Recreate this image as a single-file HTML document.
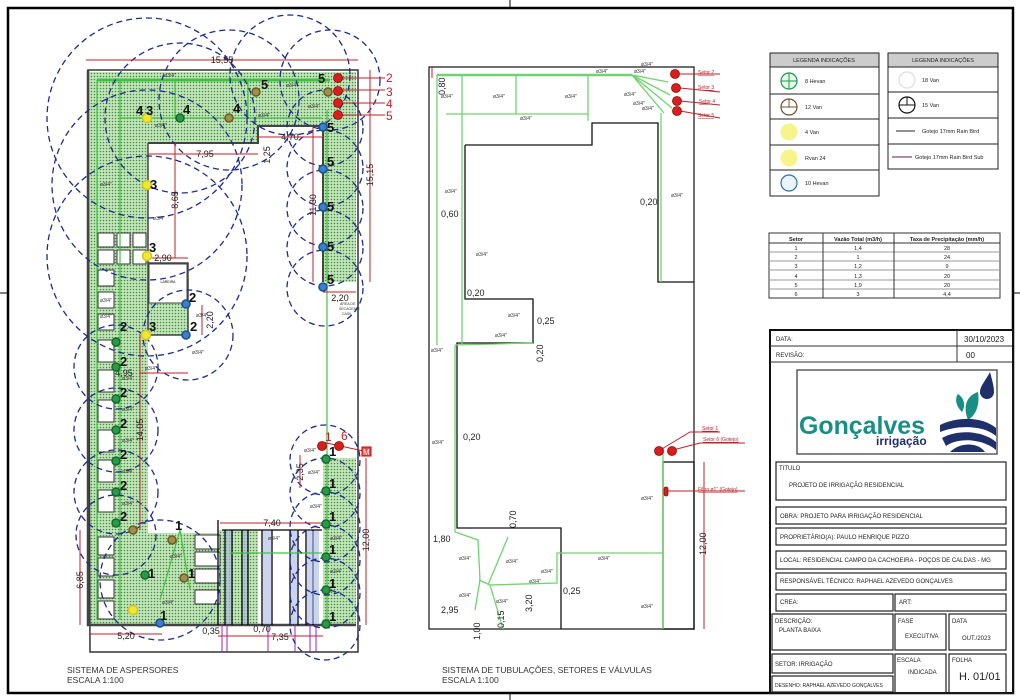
<!DOCTYPE html>
<html><head><meta charset="utf-8"><style>
html,body{margin:0;padding:0;background:#fff;}
svg{display:block;font-family:"Liberation Sans",sans-serif;}
</style></head><body>
<svg width="1020" height="700" viewBox="0 0 1020 700" xmlns="http://www.w3.org/2000/svg">
<defs>
<pattern id="h" width="3" height="3" patternUnits="userSpaceOnUse">
<rect width="3" height="3" fill="#c2e6b8"/><circle cx="1.5" cy="1.5" r="0.8" fill="#4a8a4a"/>
</pattern>
</defs>
<rect width="1020" height="700" fill="#fff"/>
<rect x="8" y="8" width="1005" height="685" fill="none" stroke="#000" stroke-width="2.5"/>
<line x1="0" y1="293" x2="8" y2="293" stroke="#000"/>
<line x1="1013" y1="293" x2="1020" y2="293" stroke="#000"/>
<line x1="510" y1="0" x2="510" y2="8" stroke="#000"/>
<line x1="510" y1="693" x2="510" y2="700" stroke="#000"/>

<g>
<path d="M88,72 H356 V282 H323 V126 H258 V143 H148 V263 H188 V335 H148 V533 H218 V625 H88 Z" fill="url(#h)"/>
<rect x="323" y="458" width="33" height="167" fill="url(#h)"/>
<rect x="218" y="530" width="105" height="95" fill="#fff"/>
<rect x="218" y="530" width="40" height="95" fill="url(#h)"/>
<path d="M88,70 H358 V652 H90 Z" fill="none" stroke="#333" stroke-width="1.5"/>
<path d="M88,70 V625 H356" fill="none" stroke="#444" stroke-width="2.5"/>
<path d="M148,143 H258 V126 H323 V282" fill="none" stroke="#444" stroke-width="2"/>
<path d="M148,143 V335 H188 V263 H148" fill="none" stroke="#444" stroke-width="1.5"/>
<rect x="149" y="264" width="38" height="39" fill="#fff" stroke="#444"/>
<text x="168" y="283" font-size="3.5" text-anchor="middle">LAREIRA</text>
<g fill="#fff" stroke="#333" stroke-width="1">
<rect x="98" y="233" width="16" height="14"/><rect x="117" y="233" width="13" height="14"/><rect x="133" y="233" width="13" height="14"/>
<rect x="98" y="250" width="16" height="14"/><rect x="117" y="250" width="13" height="14"/><rect x="133" y="250" width="13" height="14"/>
<rect x="98" y="270" width="16" height="16"/><rect x="98" y="292" width="16" height="16"/><rect x="98" y="314" width="16" height="16"/>
<rect x="98" y="340" width="16" height="22"/><rect x="98" y="370" width="16" height="22"/><rect x="98" y="400" width="16" height="22"/>
<rect x="98" y="430" width="16" height="22"/><rect x="98" y="460" width="16" height="22"/><rect x="98" y="490" width="16" height="22"/>
<rect x="98" y="537" width="16" height="18"/><rect x="98" y="558" width="16" height="18"/><rect x="98" y="580" width="16" height="18"/><rect x="98" y="601" width="16" height="18"/>
<rect x="195" y="535" width="25" height="14"/><rect x="195" y="552" width="25" height="14"/><rect x="195" y="569" width="25" height="14"/><rect x="195" y="590" width="25" height="14"/>
</g>
<g stroke="#000" stroke-width="1.3">
<line x1="222" y1="530" x2="322" y2="530"/>
<line x1="225" y1="530" x2="225" y2="625"/><line x1="232" y1="530" x2="232" y2="625"/>
<line x1="242" y1="530" x2="242" y2="625"/><line x1="248" y1="530" x2="248" y2="625"/>
<line x1="262" y1="530" x2="262" y2="625"/><line x1="272" y1="530" x2="272" y2="625"/>
<line x1="290" y1="530" x2="290" y2="625"/><line x1="298" y1="530" x2="298" y2="625"/>
<line x1="306" y1="530" x2="306" y2="625"/><line x1="313" y1="530" x2="313" y2="625"/>
<line x1="218" y1="520" x2="218" y2="625"/>
</g>
<g fill="#a8b8e8" opacity="0.6">
<rect x="226" y="531" width="5" height="93"/><rect x="243" y="531" width="4" height="93"/><rect x="263" y="531" width="8" height="93"/><rect x="291" y="531" width="6" height="93"/><rect x="307" y="531" width="12" height="93"/>
</g>
<g stroke="#a020c0" stroke-width="1">
<line x1="222" y1="625" x2="222" y2="652"/><line x1="227" y1="625" x2="227" y2="652"/><line x1="268" y1="625" x2="268" y2="652"/><line x1="295" y1="625" x2="295" y2="652"/><line x1="310" y1="625" x2="310" y2="652"/><line x1="316" y1="625" x2="316" y2="652"/>
</g>
<g stroke="#3fc23f" fill="none" stroke-width="1.2">
<line x1="97" y1="80" x2="330" y2="80" stroke-width="3"/>
<line x1="120" y1="118" x2="322" y2="118"/>
<line x1="97" y1="80" x2="97" y2="620"/>
<line x1="120" y1="80" x2="120" y2="620"/>
<line x1="175" y1="80" x2="175" y2="118"/><line x1="248" y1="80" x2="248" y2="118"/>
<line x1="327" y1="110" x2="327" y2="625"/>
<line x1="230" y1="553" x2="322" y2="553"/>
<path d="M180,530 L160,600 M180,530 L190,590"/>
</g>
<g stroke="#1c2c8c" stroke-width="1.3" fill="none" stroke-dasharray="6,4">
<circle cx="147" cy="118" r="100"/><circle cx="180" cy="118" r="75"/><circle cx="229" cy="100" r="70"/>
<circle cx="290" cy="75" r="60"/><circle cx="330" cy="80" r="50"/>
<circle cx="147" cy="185" r="95"/><circle cx="147" cy="256" r="100"/>
<circle cx="188" cy="335" r="45"/>
<circle cx="116" cy="367" r="42"/><circle cx="116" cy="430" r="42"/><circle cx="116" cy="492" r="42"/><circle cx="116" cy="535" r="40"/>
<circle cx="325" cy="128" r="38"/><circle cx="325" cy="168" r="38"/><circle cx="325" cy="208" r="38"/><circle cx="325" cy="248" r="38"/><circle cx="325" cy="288" r="38"/>
<circle cx="325" cy="460" r="35"/><circle cx="325" cy="493" r="35"/><circle cx="325" cy="527" r="35"/><circle cx="325" cy="560" r="35"/><circle cx="325" cy="593" r="35"/><circle cx="325" cy="625" r="35"/>
<circle cx="160" cy="580" r="60"/>
</g>
<g stroke="#c0202a" stroke-width="1" fill="none">
<line x1="86" y1="60" x2="358" y2="60"/>
<line x1="370" y1="70" x2="370" y2="282"/>
<line x1="313" y1="126" x2="313" y2="282"/>
<line x1="148" y1="154" x2="258" y2="154"/>
<line x1="258" y1="137" x2="323" y2="137"/>
<line x1="175" y1="143" x2="175" y2="258"/>
<line x1="148" y1="258" x2="188" y2="258"/>
<line x1="202" y1="305" x2="202" y2="335"/>
<line x1="140" y1="373" x2="188" y2="373"/>
<line x1="140" y1="335" x2="140" y2="530"/>
<line x1="80" y1="530" x2="80" y2="625"/>
<line x1="90" y1="634" x2="162" y2="634"/>
<line x1="220" y1="523" x2="323" y2="523"/>
<line x1="218" y1="636" x2="323" y2="636"/>
<line x1="366" y1="458" x2="366" y2="625"/>
<line x1="300" y1="455" x2="300" y2="488"/>
<line x1="323" y1="292" x2="356" y2="292"/>
<line x1="337" y1="78" x2="385" y2="78"/><line x1="337" y1="90" x2="385" y2="90"/><line x1="337" y1="103" x2="385" y2="103"/><line x1="337" y1="115" x2="385" y2="115"/>
<line x1="322" y1="442" x2="368" y2="452"/>
</g>
<g font-size="9" fill="#222" text-anchor="middle">
<text x="222" y="63">15,55</text>
<text x="205" y="157">7,95</text>
<text x="290" y="140">4,70</text>
<text x="163" y="261">2,90</text>
<text x="124" y="376">4,95</text>
<text x="126" y="639">5,20</text>
<text x="272" y="526">7,40</text>
<text x="280" y="640">7,35</text>
<text x="211" y="634">0,35</text>
<text x="262" y="632">0,70</text>
<text x="340" y="301">2,20</text>
<text transform="translate(178,200) rotate(-90)">8,65</text>
<text transform="translate(143,430) rotate(-90)">14,05</text>
<text transform="translate(83,580) rotate(-90)">6,85</text>
<text transform="translate(369,540) rotate(-90)">12,00</text>
<text transform="translate(373,175) rotate(-90)">15,15</text>
<text transform="translate(316,205) rotate(-90)">11,30</text>
<text transform="translate(270,155) rotate(-90)">1,25</text>
<text transform="translate(213,320) rotate(-90)">2,20</text>
<text transform="translate(303,472) rotate(-90)">2,35</text>
</g>
<g font-size="5" fill="#333">
<text x="155" y="127">ø3/4"</text><text x="258" y="117">ø3/4"</text><text x="286" y="87">ø3/4"</text><text x="308" y="108">ø3/4"</text><text x="164" y="77">ø3/4"</text>
<text x="100" y="186">ø3/4"</text><text x="153" y="220">ø3/4"</text><text x="100" y="302">ø3/4"</text><text x="100" y="318">ø3/4"</text>
<text x="196" y="317">ø3/4"</text><text x="192" y="354">ø3/4"</text><text x="145" y="370">ø3/4"</text>
<text x="122" y="380">ø3/4"</text><text x="122" y="411">ø3/4"</text><text x="122" y="442">ø3/4"</text><text x="122" y="473">ø3/4"</text><text x="122" y="505">ø3/4"</text>
<text x="304" y="452">ø3/4"</text><text x="308" y="474">ø3/4"</text><text x="310" y="508">ø3/4"</text><text x="330" y="540">ø3/4"</text><text x="330" y="573">ø3/4"</text>
<text x="268" y="540">ø3/4"</text><text x="170" y="558">ø3/4"</text><text x="162" y="604">ø3/4"</text>
</g>
<text x="340" y="305" font-size="3.5" fill="#333">ÁREA DE</text>
<text x="339" y="310" font-size="3.5" fill="#333">SECAGEM E</text>
<text x="342" y="315" font-size="3.5" fill="#333">CASIL</text>
<g font-size="12" fill="#c0202a">
<text x="386" y="82">2</text><text x="386" y="96">3</text><text x="386" y="108">4</text><text x="386" y="120">5</text>
<text x="325" y="441">1</text><text x="341" y="440">6</text>
</g>
<rect x="362" y="447" width="9" height="9" fill="#e05050" stroke="#c00"/><text x="363" y="455" font-size="8" fill="#fff">M</text>
<g fill="#d62020" stroke="#900" stroke-width="0.8">
<circle cx="338" cy="78" r="4.5"/><circle cx="338" cy="91" r="4.5"/><circle cx="338" cy="103" r="4.5"/><circle cx="338" cy="115" r="4.5"/>
<circle cx="322" cy="446" r="4.5"/><circle cx="339" cy="446" r="4.5"/>
</g>
<g stroke-width="1.5">
<g fill="#2a9a4a" stroke="#136a2a">
<circle cx="180" cy="118" r="4"/><circle cx="116" cy="342" r="4"/><circle cx="116" cy="367" r="4"/><circle cx="116" cy="399" r="4"/><circle cx="116" cy="430" r="4"/><circle cx="116" cy="461" r="4"/><circle cx="116" cy="492" r="4"/><circle cx="116" cy="523" r="4"/>
<circle cx="326" cy="459" r="4"/><circle cx="326" cy="491" r="4"/><circle cx="326" cy="524" r="4"/><circle cx="326" cy="557" r="4"/><circle cx="326" cy="590" r="4"/><circle cx="326" cy="624" r="4"/>
<circle cx="145" cy="575" r="4"/>
</g>
<g fill="#a09050" stroke="#705a20">
<circle cx="229" cy="118" r="4"/><circle cx="256" cy="92" r="4"/><circle cx="328" cy="92" r="4"/><circle cx="133" cy="530" r="4"/><circle cx="172" cy="540" r="4"/><circle cx="184" cy="578" r="4"/>
</g>
<g fill="#f0e830" stroke="#d0c820">
<circle cx="147" cy="118" r="4.5"/><circle cx="147" cy="185" r="4.5"/><circle cx="147" cy="256" r="4.5"/><circle cx="146" cy="335" r="4.5"/><circle cx="133" cy="610" r="4.5"/>
</g>
<g fill="#3a80d0" stroke="#1a508a">
<circle cx="323" cy="127" r="4"/><circle cx="323" cy="169" r="4"/><circle cx="323" cy="207" r="4"/><circle cx="323" cy="247" r="4"/><circle cx="323" cy="287" r="4"/>
<circle cx="186" cy="304" r="4"/><circle cx="186" cy="335" r="4"/><circle cx="160" cy="623" r="4"/>
</g>
</g>
<g font-size="13" font-weight="bold" fill="#111">
<text x="136" y="115">4</text><text x="146" y="115">3</text><text x="183" y="114">4</text><text x="233" y="113">4</text><text x="261" y="89">5</text><text x="318" y="83">5</text>
<text x="327" y="132">5</text><text x="327" y="166">5</text><text x="327" y="211">5</text><text x="327" y="251">5</text><text x="327" y="284">5</text>
<text x="150" y="189">3</text><text x="149" y="252">3</text><text x="149" y="331">3</text>
<text x="189" y="302">2</text><text x="190" y="331">2</text><text x="120" y="331">2</text>
<text x="120" y="366">2</text><text x="120" y="397">2</text><text x="120" y="428">2</text><text x="120" y="459">2</text><text x="120" y="490">2</text><text x="120" y="521">2</text>
<text x="329" y="456">1</text><text x="329" y="488">1</text><text x="329" y="521">1</text><text x="329" y="554">1</text><text x="329" y="588">1</text><text x="329" y="621">1</text>
<text x="175" y="530">1</text><text x="188" y="578">1</text><text x="148" y="578">1</text><text x="160" y="620">1</text>
</g>
<text x="67" y="673" font-size="8.5" fill="#333">SISTEMA DE ASPERSORES</text>
<text x="67" y="683" font-size="8.5" fill="#333">ESCALA 1:100</text>
</g>

<g>
<rect x="429" y="67" width="265" height="562" fill="none" stroke="#222" stroke-width="1.3"/>
<path d="M465,145 H592 V123 H658 V282 H694" fill="none" stroke="#111" stroke-width="1.3"/>
<path d="M465,145 V299 H533 V343 H457 V528 H561 V629" fill="none" stroke="#111" stroke-width="1.3"/>
<rect x="663" y="462" width="31" height="167" fill="none" stroke="#111" stroke-width="1.3"/>
<g stroke="#6fd36f" fill="none" stroke-width="1.3">
<line x1="437" y1="75" x2="632" y2="75" stroke-width="2.5"/>
<line x1="446" y1="114" x2="588" y2="114"/>
<line x1="516" y1="75" x2="516" y2="114"/><line x1="588" y1="75" x2="588" y2="121"/>
<line x1="437" y1="75" x2="437" y2="345"/>
<line x1="462" y1="75" x2="462" y2="345"/>
<line x1="455" y1="345" x2="533" y2="343"/>
<line x1="455" y1="345" x2="455" y2="532"/>
<path d="M455,532 L478,540 L480,580 L475,610"/>
<path d="M488,585 L508,537"/>
<path d="M479,580 L490,585 L503,629"/>
<path d="M490,585 L557,583 L557,553 L663,553"/>
<line x1="661" y1="113" x2="661" y2="282"/>
<line x1="663" y1="448" x2="663" y2="629"/>
<path d="M632,75 L668,82 M632,75 L670,95 M632,75 L672,108 M632,75 L664,113"/>
</g>
<g stroke="#c0202a" stroke-width="1" fill="none">
<line x1="680" y1="74" x2="720" y2="74"/><line x1="680" y1="88" x2="720" y2="92"/><line x1="680" y1="101" x2="720" y2="105"/><line x1="680" y1="111" x2="720" y2="118"/>
<path d="M660,450 L690,432 H720"/><path d="M673,450 L700,443 H745"/>
<line x1="667" y1="491" x2="745" y2="491"/>
<line x1="704" y1="462" x2="704" y2="629"/>
<line x1="432" y1="78" x2="432" y2="67"/>
</g>
<g fill="#d62020" stroke="#900" stroke-width="0.8">
<circle cx="675" cy="74" r="4.5"/><circle cx="676" cy="88" r="4.5"/><circle cx="677" cy="101" r="4.5"/><circle cx="677" cy="111" r="4.5"/>
<circle cx="659" cy="451" r="4.5"/><circle cx="672" cy="451" r="4.5"/>
<rect x="664" y="487" width="4" height="9" rx="2"/>
</g>
<g font-size="5" fill="#c0202a" text-decoration="underline">
<text x="698" y="74">Setor 2</text><text x="698" y="89">Setor 3</text><text x="699" y="103">Setor 4</text><text x="698" y="117">Setor 5</text>
<text x="702" y="430">Setor 1</text><text x="703" y="441">Setor 6 (Gotejo)</text><text x="698" y="491">Filtro ø1" (Gotejo)</text>
</g>
<g font-size="9" fill="#222">
<text x="441" y="217">0,60</text><text x="640" y="205">0,20</text><text x="467" y="296">0,20</text><text x="537" y="324">0,25</text>
<text x="463" y="440">0,20</text><text x="433" y="542">1,80</text><text x="441" y="613">2,95</text><text x="563" y="594">0,25</text>
<text transform="translate(445,95) rotate(-90)">0,80</text>
<text transform="translate(543,362) rotate(-90)">0,20</text>
<text transform="translate(516,528) rotate(-90)">0,70</text>
<text transform="translate(532,612) rotate(-90)">3,20</text>
<text transform="translate(480,640) rotate(-90)">1,00</text>
<text transform="translate(504,628) rotate(-90)">0,15</text>
<text transform="translate(706,555) rotate(-90)">12,00</text>
</g>
<g font-size="5" fill="#333">
<text x="641" y="66">ø3/4"</text><text x="596" y="73">ø3/4"</text><text x="634" y="73">ø3/4"</text><text x="624" y="96">ø3/4"</text><text x="633" y="105">ø3/4"</text><text x="642" y="110">ø3/4"</text>
<text x="441" y="98">ø3/4"</text><text x="493" y="98">ø3/4"</text><text x="565" y="98">ø3/4"</text><text x="520" y="120">ø3/4"</text>
<text x="445" y="193">ø3/4"</text><text x="671" y="197">ø3/4"</text><text x="476" y="256">ø3/4"</text><text x="508" y="317">ø3/4"</text><text x="495" y="337">ø3/4"</text><text x="431" y="352">ø3/4"</text>
<text x="432" y="444">ø3/4"</text><text x="459" y="560">ø3/4"</text><text x="506" y="563">ø3/4"</text><text x="541" y="573">ø3/4"</text><text x="529" y="583">ø3/4"</text>
<text x="459" y="597">ø3/4"</text><text x="496" y="603">ø3/4"</text><text x="598" y="560">ø3/4"</text><text x="641" y="500">ø3/4"</text><text x="641" y="608">ø3/4"</text>
</g>
<text x="442" y="673" font-size="8.5" fill="#333">SISTEMA DE TUBULAÇÕES, SETORES E VÁLVULAS</text>
<text x="442" y="683" font-size="8.5" fill="#333">ESCALA 1:100</text>
</g>

<g font-size="5.5" fill="#222">
<rect x="770" y="53" width="109" height="143" fill="#fff" stroke="#222"/>
<rect x="770" y="53" width="109" height="14" fill="#ccc" stroke="#222"/>
<text x="824" y="62" text-anchor="middle">LEGENDA INDICAÇÕES</text>
<line x1="770" y1="94" x2="879" y2="94" stroke="#222"/><line x1="770" y1="119" x2="879" y2="119" stroke="#222"/><line x1="770" y1="145" x2="879" y2="145" stroke="#222"/><line x1="770" y1="170" x2="879" y2="170" stroke="#222"/>
<circle cx="789" cy="81" r="8" fill="#e8f8ea" stroke="#1a9a4a" stroke-width="1.2"/><path d="M781,81 H797 M789,73 V89" stroke="#1a9a4a"/>
<circle cx="789" cy="107" r="8" fill="#fff" stroke="#705030" stroke-width="1.2"/><path d="M781,107 H797 M789,99 V107" stroke="#705030"/>
<circle cx="789" cy="132" r="8.5" fill="#f6f48a"/><circle cx="789" cy="158" r="8.5" fill="#f6f48a"/>
<circle cx="789" cy="183" r="8" fill="#eaf4ff" stroke="#2a70b0" stroke-width="1.2"/>
<text x="805" y="83">8 Hevan</text><text x="805" y="109">12 Van</text><text x="805" y="134">4 Van</text><text x="805" y="160">Rvan 24</text><text x="805" y="185">10 Hevan</text>
<rect x="888" y="53" width="110" height="116" fill="#fff" stroke="#222"/>
<rect x="888" y="53" width="110" height="14" fill="#ccc" stroke="#222"/>
<text x="943" y="62" text-anchor="middle">LEGENDA INDICAÇÕES</text>
<line x1="888" y1="92" x2="998" y2="92" stroke="#222"/><line x1="888" y1="118" x2="998" y2="118" stroke="#222"/><line x1="888" y1="144" x2="998" y2="144" stroke="#222"/>
<circle cx="907" cy="80" r="8" fill="#fff" stroke="#ddd" stroke-width="1.2"/>
<circle cx="907" cy="105" r="8" fill="#fff" stroke="#111" stroke-width="1.2"/><path d="M899,105 H915 M907,97 V105" stroke="#111"/>
<line x1="896" y1="131" x2="915" y2="131" stroke="#222"/><line x1="892" y1="157" x2="912" y2="157" stroke="#602040"/>
<text x="922" y="82">18 Van</text><text x="922" y="107">15 Van</text><text x="922" y="133">Gotejo 17mm Rain Bird</text><text x="915" y="159">Gotejo 17mm Rain Bird Sub</text>
</g>
<g font-size="5.5" fill="#222" text-anchor="middle">
<rect x="769" y="233" width="231" height="65" fill="#fff" stroke="#333"/>
<line x1="769" y1="243" x2="1000" y2="243" stroke="#333"/>
<line x1="769" y1="252" x2="1000" y2="252" stroke="#999"/><line x1="769" y1="261" x2="1000" y2="261" stroke="#999"/><line x1="769" y1="270" x2="1000" y2="270" stroke="#999"/><line x1="769" y1="280" x2="1000" y2="280" stroke="#999"/><line x1="769" y1="289" x2="1000" y2="289" stroke="#999"/>
<line x1="823" y1="233" x2="823" y2="298" stroke="#333"/><line x1="894" y1="233" x2="894" y2="298" stroke="#333"/>
<g font-weight="bold"><text x="796" y="241">Setor</text><text x="858" y="241">Vazão Total  (m3/h)</text><text x="947" y="241">Taxa de Precipitação (mm/h)</text></g>
<text x="796" y="250">1</text><text x="858" y="250">1,4</text><text x="947" y="250">28</text>
<text x="796" y="259">2</text><text x="858" y="259">1</text><text x="947" y="259">24</text>
<text x="796" y="268">3</text><text x="858" y="268">1,2</text><text x="947" y="268">9</text>
<text x="796" y="278">4</text><text x="858" y="278">1,3</text><text x="947" y="278">20</text>
<text x="796" y="287">5</text><text x="858" y="287">1,9</text><text x="947" y="287">20</text>
<text x="796" y="296">6</text><text x="858" y="296">3</text><text x="947" y="296">4,4</text>
</g>

<g font-size="6" fill="#222">
<rect x="770" y="330" width="243" height="363" fill="#fff" stroke="#111" stroke-width="2"/>
<line x1="770" y1="346" x2="1012" y2="346" stroke="#333"/><line x1="770" y1="362" x2="1012" y2="362" stroke="#333"/>
<line x1="957" y1="330" x2="957" y2="362" stroke="#333"/>
<text x="776" y="341">DATA:</text><text x="964" y="342" font-size="8">30/10/2023</text>
<text x="776" y="357">REVISÃO:</text><text x="966" y="358" font-size="8">00</text>
<rect x="797" y="370" width="200" height="84" fill="#fff" stroke="#333" stroke-width="1.2"/>
<text x="799" y="434" font-size="25" font-weight="bold" fill="#178f84" textLength="126" lengthAdjust="spacingAndGlyphs">Gonçalves</text>
<text x="876" y="445" font-size="12" font-weight="bold" fill="#1e2f6a">irrigação</text>
<path d="M990,372 C986,380 980,386 980,392 A7,7 0 0 0 994,392 C994,386 992,380 990,372 Z" fill="#1e2f6a"/>
<path d="M968,420 C962,405 968,395 978,392 C980,405 976,415 968,420 Z" fill="#178f84"/>
<path d="M962,412 C955,405 955,398 958,394 C964,398 966,405 962,412 Z" fill="#178f84"/>
<path d="M940,425 C960,415 985,418 996,428 V436 C985,426 960,424 940,432 Z" fill="#1e2f6a"/>
<path d="M942,438 C960,428 985,432 996,442 V450 C985,440 960,436 946,446 Z" fill="#1e2f6a"/>
<path d="M950,452 C960,442 978,442 985,452 Z" fill="#1e2f6a"/>
<g fill="none" stroke="#222" stroke-width="1.2">
<rect x="776" y="462" width="230" height="38"/>
<rect x="776" y="507" width="230" height="17"/>
<rect x="776" y="528" width="230" height="17"/>
<rect x="776" y="551" width="230" height="18"/>
<rect x="776" y="573" width="230" height="17"/>
<rect x="776" y="594" width="117" height="17"/><rect x="895" y="594" width="111" height="17"/>
<rect x="772" y="614" width="121" height="36"/>
<rect x="895" y="614" width="51" height="36"/><rect x="949" y="614" width="57" height="36"/>
<rect x="772" y="654" width="121" height="19"/><rect x="772" y="676" width="121" height="16"/>
<rect x="895" y="654" width="51" height="39"/><rect x="949" y="654" width="57" height="39"/>
</g>
<text x="779" y="470">TITULO</text>
<text x="789" y="487">PROJETO DE IRRIGAÇÃO RESIDENCIAL</text>
<text x="780" y="518">OBRA:  PROJETO PARA IRRIGAÇÃO RESIDENCIAL</text>
<text x="780" y="539">PROPRIETÁRIO(A):   PAULO HENRIQUE PIZZO</text>
<text x="780" y="562">LOCAL: RESIDENCIAL CAMPO DA CACHOEIRA - POÇOS DE CALDAS - MG</text>
<text x="780" y="583">RESPONSÁVEL TÉCNICO:  RAPHAEL AZEVEDO GONÇALVES</text>
<text x="780" y="604">CREA:</text><text x="899" y="604">ART:</text>
<text x="775" y="623">DESCRIÇÃO:</text><text x="779" y="632">PLANTA BAIXA</text>
<text x="898" y="623">FASE</text><text x="905" y="638">EXECUTIVA</text>
<text x="952" y="623">DATA</text><text x="962" y="640">OUT./2023</text>
<text x="775" y="666">SETOR: IRRIGAÇÃO</text>
<text x="775" y="687" font-size="5">DESENHO: RAPHAEL AZEVEDO GONÇALVES</text>
<text x="897" y="662">ESCALA</text><text x="908" y="674">INDICADA</text>
<text x="952" y="662">FOLHA</text><text x="959" y="680" font-size="11">H. 01/01</text>
</g>
</svg>
</body></html>
